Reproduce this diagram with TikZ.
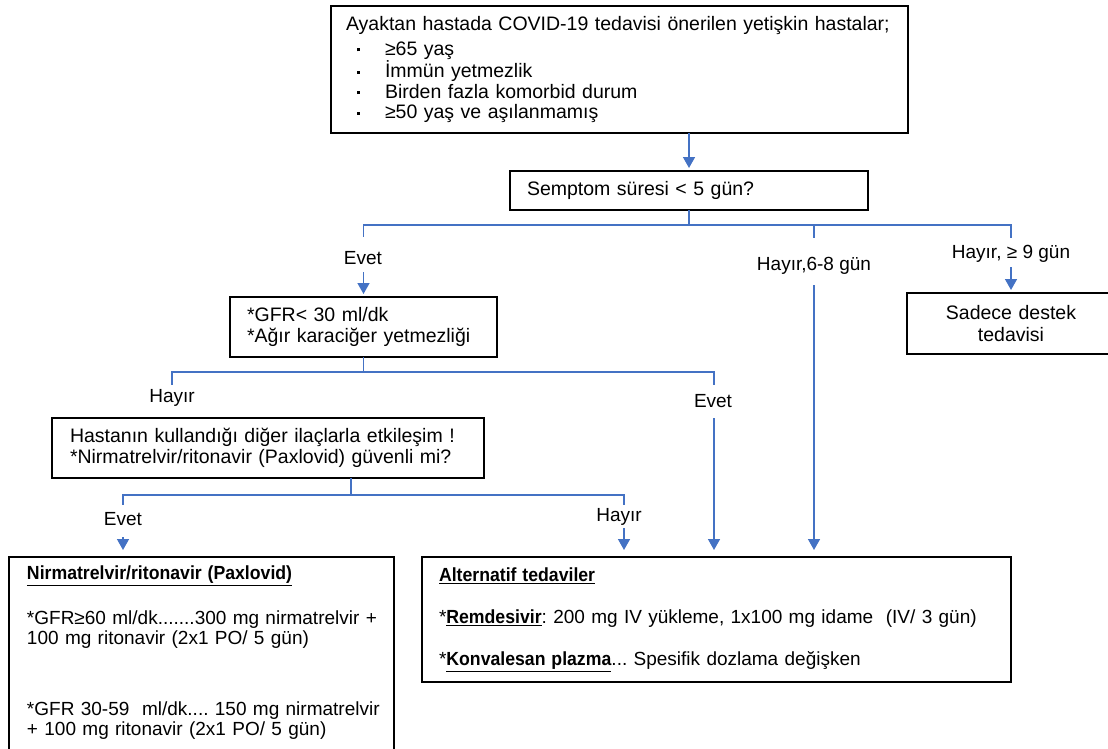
\documentclass[tikz,border=0pt]{standalone}
\usepackage{fontspec}
\setmainfont{Liberation Sans}
\usetikzlibrary{arrows.meta}
\definecolor{flowblue}{HTML}{4472C4}
\frenchspacing
\newcommand{\boxfont}{\fontsize{19.5}{21}\selectfont}
\newcommand{\labfont}{\fontsize{19}{21}\selectfont}
\newcommand{\bulletitem}{\hspace*{11pt}\makebox[28pt][l]{\rule[4pt]{3pt}{3pt}}}
% bold, slightly narrowed and underlined heading words
\newcommand{\headword}[1]{\underline{\scalebox{0.93}[1]{\textbf{#1}}}}

\begin{document}
\begin{tikzpicture}[x=1pt, y=-1pt,
  box/.style={draw=black, line width=1.3pt, font=\boxfont, inner ysep=0pt,
              outer sep=0pt, anchor=north west, align=left},
  link/.style={draw=flowblue, line width=1.5pt},
  arr/.style={link, -{Triangle[width=12pt,length=11pt]}, shorten >=3pt},
  lab/.style={font=\labfont, inner sep=0pt, text height=14pt, text depth=4pt}]

\useasboundingbox (0,0) rectangle (1108,749);

% ---------- boxes ----------
\node[box, text width=547pt, inner xsep=15pt, minimum height=127pt,
      font=\fontsize{19.5}{20.5}\selectfont] (crit) at (331,6)
  {\mbox{Ayaktan hastada COVID-19 tedavisi önerilen yetişkin hastalar;}\\[4.5pt]
   \bulletitem ≥65 yaş\\
   \bulletitem İmmün yetmezlik\\
   \bulletitem Birden fazla komorbid durum\\
   \bulletitem ≥50 yaş ve aşılanmamış};

\node[box, text width=324pt, inner xsep=17pt, minimum height=39pt] (sem) at (510,171)
  {Semptom süresi < 5 gün?};

\node[box, text width=208pt, inner xsep=0pt, minimum height=61pt, align=center,
      font=\fontsize{19.5}{22}\selectfont] (sad) at (907,293)
  {Sadece destek\\tedavisi};

\node[box, text width=233pt, inner xsep=17pt, minimum height=60pt] (gfr) at (230,297)
  {\mbox{*GFR< 30 ml/dk}\\\mbox{*Ağır karaciğer yetmezliği}};

\node[box, text width=396pt, inner xsep=18pt, minimum height=60pt] (has) at (52,418)
  {\mbox{Hastanın kullandığı diğer ilaçlarla etkileşim !}\\
   \mbox{*Nirmatrelvir/ritonavir (Paxlovid) güvenli mi?}};

\node[box, text width=349pt, inner xsep=18pt, inner ysep=9pt,
      font=\fontsize{19}{20}\selectfont] (pax) at (9,557)
  {\headword{Nirmatrelvir/ritonavir (Paxlovid)}\\[25pt]
   \mbox{*GFR≥60 ml/dk.......300 mg nirmatrelvir +}\\
   \mbox{100 mg ritonavir (2x1 PO/ 5 gün)}\\[51pt]
   \mbox{*GFR 30-59~ ml/dk.... 150 mg nirmatrelvir}\\
   \mbox{+ 100 mg ritonavir (2x1 PO/ 5 gün)}\\
   \rule{0pt}{40pt}};

\node[box, text width=555pt, inner xsep=17pt, minimum height=125pt,
      font=\fontsize{19}{21}\selectfont] (alt) at (422,557)
  {\headword{Alternatif tedaviler}\\[21pt]
   \mbox{*\headword{Remdesivir}: 200 mg IV yükleme, 1x100 mg idame~ (IV/ 3 gün)}\\[21pt]
   \mbox{*\headword{Konvalesan plazma}... Spesifik dozlama değişken}};

% ---------- branch labels ----------
\node[lab] (l1) at (363,259) {Evet};
\node[lab] (l2) at (814,265) {Hayır,6-8 gün};
\node[lab] (l3) at (1011,253) {Hayır, ≥ 9 gün};
\node[lab] (l4) at (172,397) {Hayır};
\node[lab] (l5) at (713,402) {Evet};
\node[lab] (l6) at (123,520) {Evet};
\node[lab] (l7) at (619,516) {Hayır};

% ---------- junctions and line ends ----------
\coordinate (j1) at (689,225);
\coordinate (t1) at (363.5,237);
\coordinate (t2) at (814,238);
\coordinate (t3) at (1011,238);
\coordinate (a1) at (363.5,272);
\coordinate (a2) at (814,285);
\coordinate (a3) at (1011,267);

\coordinate (j2) at (363.5,372);
\coordinate (t4) at (172,385);
\coordinate (t5) at (714,385);
\coordinate (a5) at (714,418);

\coordinate (j3) at (351,495);
\coordinate (t6) at (123,505);
\coordinate (t7) at (624,505);
\coordinate (a6) at (123,537);
\coordinate (a7) at (624,528);

% ---------- connectors ----------
\draw[arr] (crit.south -| sem.north) -- (sem.north);

\draw[link] (sem.south -| j1) -- (j1);
\draw[link] (j1) -| (t1);
\draw[link] (j1) -| (t2);
\draw[link] (j1) -| (t3);
\draw[arr] (a1) -- (gfr.north);
\draw[arr, shorten >=7pt] (a2) -- (a2 |- alt.north);
\draw[arr] (a3) -- (sad.north);

\draw[link] (gfr.south) -- (j2);
\draw[link] (j2) -| (t4);
\draw[link] (j2) -| (t5);
\draw[arr, shorten >=7pt] (a5) -- (a5 |- alt.north);

\draw[link] (has.south -| j3) -- (j3);
\draw[link] (j3) -| (t6);
\draw[link] (j3) -| (t7);
\draw[arr, shorten >=7pt] (a6) -- (a6 |- pax.north);
\draw[arr, shorten >=7pt] (a7) -- (a7 |- alt.north);
\end{tikzpicture}
\end{document}
